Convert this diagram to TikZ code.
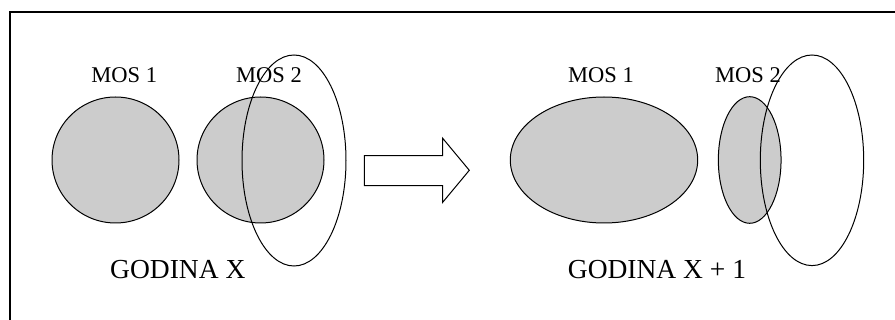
\documentclass[tikz,border=0pt]{standalone}
\usepackage{fontspec}
\setmainfont{Liberation Serif}
\usetikzlibrary{shapes.geometric}
\definecolor{mosgray}{RGB}{204,204,204}
\begin{document}
\begin{tikzpicture}[x=1pt,y=-1pt,
  blob/.style={ellipse,draw=black,fill=mosgray,line width=1pt,inner sep=0pt},
  ring/.style={ellipse,draw=black,line width=1pt,inner sep=0pt},
  moslabel/.style={anchor=base,inner sep=0pt,font=\fontsize{22.5}{27}\selectfont},
  yearlabel/.style={anchor=base,inner sep=0pt,font=\fontsize{27.5}{33}\selectfont}]
\useasboundingbox (0,0) rectangle (895,320);
\fill[white] (0,0) rectangle (895,320);
% frame
\draw[line width=2pt] (10,320) -- (10,12.5) -- (895,12.5);
% left: year X
\node[blob,minimum width=127pt,minimum height=126pt] (a1) at (115.5,160) {};
\node[blob,minimum width=127pt,minimum height=126pt] (a2) at (260.5,160) {};
\node[ring,minimum width=104pt,minimum height=211pt] (ar) at (294,160.5) {};
\node[moslabel] (la1) at (124.2,82.7) {MOS 1};
\node[moslabel] (la2) at (269,82.7) {MOS 2};
\node[yearlabel] (ya) at (177.8,278.3) {GODINA X};
% arrow
\draw[line width=1pt,fill=white] (364.3,155.7) -- (442.7,155.7) -- (442.7,138.3) -- (469.3,170.3)
  -- (442.7,202.3) -- (442.7,185.7) -- (364.3,185.7) -- cycle;
% right: year X+1
\node[blob,minimum width=187.4pt,minimum height=126pt] (b1) at (604,160) {};
\node[blob,minimum width=62.7pt,minimum height=126.6pt] (b2) at (749.7,160) {};
\node[ring,minimum width=103.4pt,minimum height=210.6pt] (br) at (812,160.3) {};
\node[moslabel] (lb1) at (601,82.7) {MOS 1};
\node[moslabel] (lb2) at (748,82.7) {MOS 2};
\node[yearlabel] (yb) at (657,278.3) {GODINA X + 1};
\end{tikzpicture}
\end{document}
